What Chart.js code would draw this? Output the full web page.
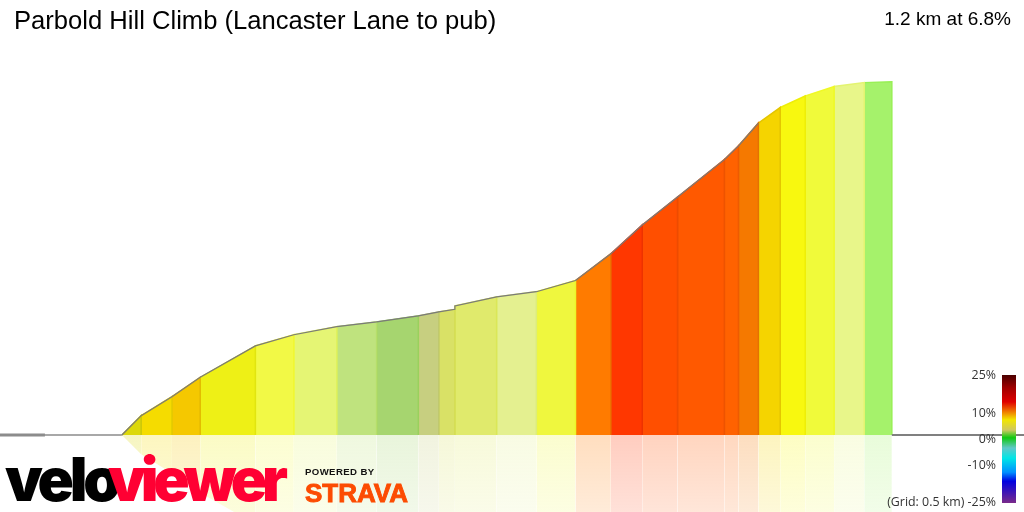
<!DOCTYPE html>
<html>
<head>
<meta charset="utf-8">
<title>Parbold Hill Climb</title>
<script src="https://cdn.jsdelivr.net/npm/chart.js@4"></script>
<style>
  html, body { margin: 0; padding: 0; background: #fff; }
  #wrap { position: relative; width: 1024px; height: 512px; overflow: hidden; font-family: "Liberation Sans", Arial, sans-serif; }
  #wrap div { position: absolute; white-space: nowrap; }
  canvas { position: absolute; left: 0; top: 0; }
  #title { left: 14px; top: 5px; font-size: 25.6px; line-height: 30px; color: #000; }
  #summary { right: 13px; top: 8px; font-size: 19px; line-height: 22px; color: #000; }
  #ramp { left: 1002px; top: 375px; width: 14px; height: 128px; }
  .legend-label { right: 28px; font: 12.4px/16px "Open Sans", sans-serif; color: #333; }
  #velo, #viewer { top: 444px; font: 900 60px/70px Inter, "Liberation Sans", sans-serif; }
  #velo { left: 5px; color: #000; letter-spacing: -4.3px; }
  #viewer { left: 108px; color: #ff0033; letter-spacing: -5.2px; }
  #powered { left: 305px; top: 465px; font: 700 9.6px/14px "Liberation Sans", sans-serif; letter-spacing: 0.4px; color: #111; }
  #strava { left: 305px; top: 478px; font: 700 26px/30px "Liberation Sans", sans-serif; color: #fc4c02; -webkit-text-stroke: 0.9px #fc4c02; }
</style>
</head>
<body>
<div id="wrap">
  <canvas id="profile" width="1024" height="512"></canvas>
  <div id="title"></div>
  <div id="summary"></div>
  <div id="ramp"></div>
  <div id="velo">velo</div>
  <div id="viewer">viewer</div>
  <div id="powered">POWERED BY</div>
  <div id="strava">STRAVA</div>
</div>
<script>
const titleText = "Parbold Hill Climb (Lancaster Lane to pub)";
const summaryText = "1.2 km at 6.8%";
const gridText = "(Grid: 0.5 km) ";

// metres along the climb, metres above the start (519 twice: the profile steps up there)
const distance = [0, 30, 78, 122, 208, 268, 335, 397, 462, 494, 519, 519, 584, 646, 707, 762, 811, 866, 939, 961, 992, 1026, 1065, 1110, 1157, 1200];
const elevation = [0, 4.5, 8.9, 13.4, 20.7, 23.3, 25.2, 26.3, 27.7, 28.6, 29.2, 30, 32.1, 33.3, 35.9, 42.1, 48.8, 55.3, 64, 67.2, 72.5, 76.1, 78.8, 81, 81.9, 82.1];

// one colour per stretch of the profile, by gradient
const segmentColors = ["#dcd80a", "#f5dc00", "#f5c800", "#eef016", "#f2f946", "#e5f574", "#bfe37e", "#a6d56f", "#c7cf80", "#d9e166",
  "#e0ea6c", "#e4f090", "#eff73e", "#ff7b00", "#ff3700", "#ff4f00", "#ff5900", "#ff6200", "#f57900", "#f5d400", "#f8f80f", "#f0fa3a", "#e8f68a", "#a5f26b"];

// the flat bit before the climb starts
const leadInDistance = [-190, -120];
const outlineEnd = 992;

const legendLabels = ["25%", "10%", "0%", "-10%", "-25%"];
const legendRows = [367, 405, 431, 457, 494];
const rampStops = [[0, "#4a0000"], [0.1, "#a00000"], [0.21, "#e00000"], [0.29, "#f08000"], [0.35, "#f2e600"], [0.43, "#cfc860"], [0.49, "#10c810"],
  [0.57, "#60c8c8"], [0.65, "#00e6e6"], [0.76, "#0090ff"], [0.83, "#0000e0"], [1, "#7a2a8a"]];

document.getElementById("title").textContent = titleText;
document.getElementById("summary").textContent = summaryText;
document.getElementById("ramp").style.background =
  "linear-gradient(to bottom," + rampStops.map(s => s[1] + " " + (s[0] * 100) + "%").join(",") + ")";

legendLabels.forEach((label, i) => {
  const el = document.createElement("div");
  el.className = "legend-label";
  el.style.top = legendRows[i] + "px";
  el.textContent = (i === legendLabels.length - 1 ? gridText : "") + label;
  document.getElementById("wrap").appendChild(el);
});

const datasets = [];

// mirror sits underneath the profile
function reflection(color) {
  return (context) => {
    const { ctx, chartArea, scales } = context.chart;
    if (!chartArea) return color + "33";
    const g = ctx.createLinearGradient(0, scales.y.getPixelForValue(0), 0, chartArea.bottom);
    g.addColorStop(0, color + "40");
    g.addColorStop(1, color + "26");
    return g;
  };
}

let colorIndex = 0;
for (let i = 0; i < distance.length - 1; i++) {
  if (distance[i + 1] === distance[i]) continue;
  const color = segmentColors[colorIndex++];
  datasets.push({
    data: [
      { x: distance[i], y: 0 },
      { x: distance[i], y: -elevation[i] },
      { x: distance[i + 1], y: -elevation[i + 1] },
      { x: distance[i + 1], y: 0 },
    ],
    fill: "origin",
    borderWidth: 0,
    backgroundColor: reflection(color),
    order: 3,
  });
  datasets.push({
    data: [
      { x: distance[i], y: 0 },
      { x: distance[i], y: elevation[i] },
      { x: distance[i + 1], y: elevation[i + 1] },
      { x: distance[i + 1], y: 0 },
    ],
    fill: "origin",
    borderWidth: 1.5,
    borderColor: Chart.helpers.color(color).darken(0.07).rgbString(),
    backgroundColor: color,
    order: 2,
  });
}

// horizon line, the darker lead-in, and the outline on top of the climb
// (lower order draws later in Chart.js)
datasets.push({
  data: [{ x: -190, y: 0 }, { x: 0, y: 0 }],
  borderColor: "#a8a8a8",
  borderWidth: 2,
  order: 1,
});
datasets.push({
  data: [{ x: 1200, y: 0 }, { x: 1406, y: 0 }],
  borderColor: "#808080",
  borderWidth: 2,
  order: 1,
});
datasets.push({
  data: leadInDistance.map(d => ({ x: d, y: 0 })),
  borderColor: "#8c8c8c",
  borderWidth: 3,
  order: 0,
});
datasets.push({
  data: distance.map((d, i) => ({ x: d, y: elevation[i] })).filter(p => p.x <= outlineEnd),
  borderColor: "#7a7a7a",
  borderWidth: 1.2,
  order: 0,
});

new Chart(document.getElementById("profile"), {
  type: "line",
  data: { datasets },
  options: {
    responsive: false,
    animation: false,
    devicePixelRatio: 1,
    parsing: false,
    normalized: false,
    layout: { padding: 0 },
    elements: { point: { radius: 0 }, line: { tension: 0 } },
    plugins: { legend: { display: false }, title: { display: false }, tooltip: { enabled: false } },
    scales: {
      x: { type: "linear", display: false, min: -190, max: 1406 },
      y: { type: "linear", display: false, min: -17.9, max: 101.1 },
    },
  },
});
</script>
</body>
</html>
